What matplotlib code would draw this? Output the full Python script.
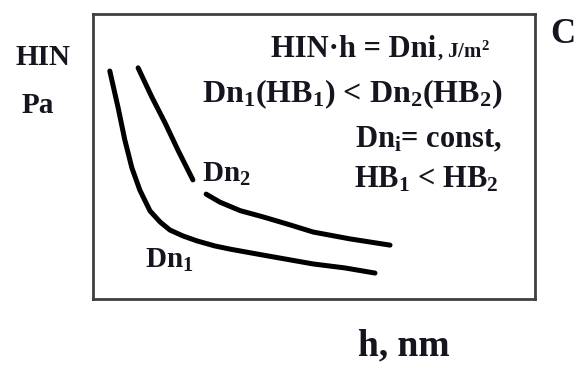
import numpy as np
import matplotlib
matplotlib.use("Agg")
import matplotlib.pyplot as plt

plt.rcParams['font.family'] = ['Liberation Serif', 'DejaVu Serif']
plt.rcParams['font.weight'] = 'bold'
plt.rcParams['mathtext.fontset'] = 'custom'
plt.rcParams['mathtext.rm'] = 'Liberation Serif:bold'
plt.rcParams['mathtext.it'] = 'Liberation Serif:bold'
plt.rcParams['mathtext.bf'] = 'Liberation Serif:bold'

# curve data (h, HIN) in arbitrary units
dn1_h = [3.8, 5.7, 7.2, 8.8, 10.6, 12.9, 15.2, 17.4, 20.4, 23.5, 27.6, 31.0, 38.5, 49.8, 57.0, 63.8]
dn1_hin = [80.0, 67.0, 55.8, 46.0, 38.2, 30.9, 27.0, 24.2, 22.1, 20.4, 18.6, 17.5, 15.4, 12.3, 10.9, 9.1]

dn2_h = [10.2, 13.3, 16.3, 19.2, 22.6, np.nan,
         25.6, 28.7, 33.3, 38.5, 44.6, 49.8, 58.1, 67.2]
dn2_hin = [81.1, 70.9, 61.8, 52.3, 41.8, np.nan,
           36.8, 34.0, 31.0, 28.8, 26.0, 23.5, 21.1, 18.9]

W, H = 581, 371
fig = plt.figure(figsize=(W / 100, H / 100), dpi=100)
fig.patch.set_facecolor('white')

def fx(px):
    return px / W

def fy(py):
    return 1 - py / H

ax = fig.add_axes([fx(93), fy(299), (535 - 93) / W, (299 - 14) / H])
ax.set_xlim(0, 100)
ax.set_ylim(0, 100)
ax.set_xticks([])
ax.set_yticks([])
for s in ax.spines.values():
    s.set_color('#404040')
    s.set_linewidth(2.0)

ax.plot(dn1_h, dn1_hin, color='black', lw=3.6, solid_capstyle='round', solid_joinstyle='round')
ax.plot(dn2_h, dn2_hin, color='black', lw=3.6, solid_capstyle='round', solid_joinstyle='round')

tc = '#15151f'
def t(px, py, s, size, ha='left', **kw):
    fig.text(fx(px), fy(py), s, fontsize=size, ha=ha, va='baseline',
             color=tc, fontweight='bold', **kw)

# y label
t(15, 65, 'HIN', 21)
t(22, 113, 'Pa', 21)
# x label
t(358, 355, 'h, nm', 27)
# panel letter
t(550, 43, 'C', 25)

# curve labels
t(202, 182, 'Dn$_2$', 21)
t(145, 268, 'Dn$_1$', 21)

# annotation lines
t(436, 57, 'HIN·h = Dni', 22, ha='right')
t(437, 57, ', J/m$^2$', 15)
t(503, 102, 'Dn$_1$(HB$_1$) < Dn$_2$(HB$_2$)', 23, ha='right')
t(502, 147, 'Dn$_\\mathrm{i}$= const,', 22, ha='right')
t(498, 188, 'HB$_1$ < HB$_2$', 22, ha='right')

fig.savefig('out.png', dpi=100, facecolor='white')
